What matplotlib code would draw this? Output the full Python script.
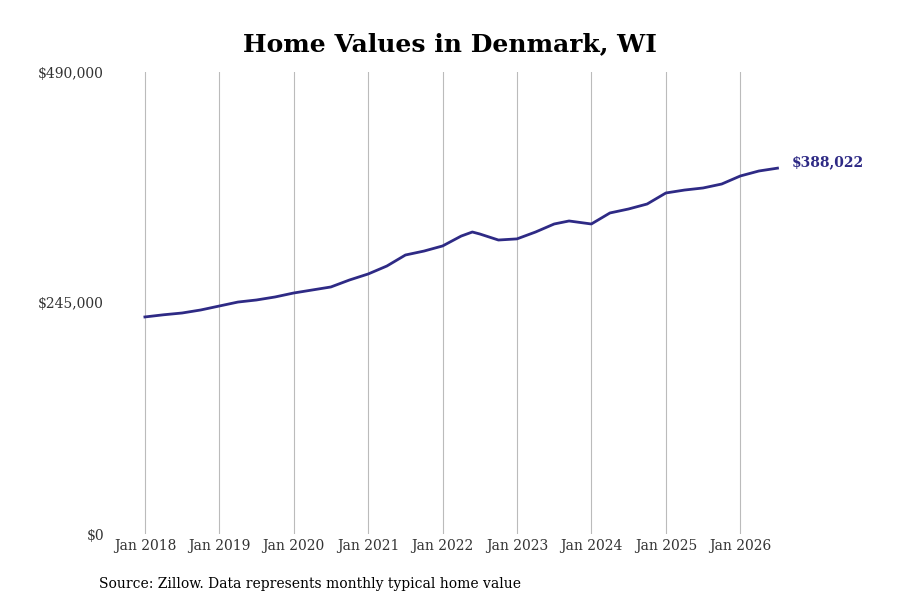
import matplotlib
matplotlib.use("Agg")
import matplotlib.pyplot as plt
import datetime as dt

years = [2018.0,2018.25,2018.5,2018.75,2019.0,2019.25,2019.5,2019.75,2020.0,2020.25,2020.5,2020.75,
         2021.0,2021.25,2021.5,2021.75,2022.0,2022.25,2022.4,2022.5,2022.75,2023.0,2023.25,2023.5,2023.7,
         2024.0,2024.25,2024.5,2024.75,2025.0,2025.25,2025.5,2025.75,2026.0,2026.25,2026.5]
values = [230200,232500,234400,237600,241800,246000,248200,251400,255600,258800,262000,269400,
          275800,284200,295900,300100,305500,316000,320300,318200,311800,313000,320300,328800,332000,
          328800,340500,344700,350000,361700,364800,367000,371200,379700,385000,388022]
tick_years = list(range(2018, 2027))
ytick_vals = [0, 245000, 490000]

def todate(y):
    yr = int(y); frac = y - yr
    return dt.datetime(yr,1,1) + dt.timedelta(days=frac*365.25)

dates = [todate(y) for y in years]
plt.rcParams['font.family'] = ['DejaVu Serif']
fig = plt.figure(figsize=(9,6), dpi=100)
ax = fig.add_axes([0.128, 0.11, 0.74, 0.77])
ax.plot(dates, values, color='#2e2a85', lw=2.0, solid_joinstyle='round')
ax.set_ylim(0, 490000)
ax.set_xlim(todate(2017.6), todate(2026.55))
ax.set_yticks(ytick_vals)
ax.set_yticklabels([f"${v:,.0f}" for v in ytick_vals])
ax.set_xticks([dt.datetime(y,1,1) for y in tick_years])
ax.set_xticklabels([f"Jan {y}" for y in tick_years])
ax.tick_params(axis='y', pad=8)
ax.tick_params(length=0, labelsize=10, colors='#333333')
ax.grid(axis='x', color='#bbbbbb', lw=0.8)
for s in ax.spines.values():
    s.set_visible(False)
ax.annotate(f"${values[-1]:,.0f}", (dates[-1], values[-1]), xytext=(10,4), textcoords='offset points',
            va='center', color='#2e2a85', fontweight='bold', fontsize=10, annotation_clip=False)
fig.text(0.5, 0.915, "Home Values in Denmark, WI", ha='center', fontsize=18, fontweight='bold')
fig.text(0.11, 0.02, "Source: Zillow. Data represents monthly typical home value", fontsize=10)
fig.savefig("out.png")
